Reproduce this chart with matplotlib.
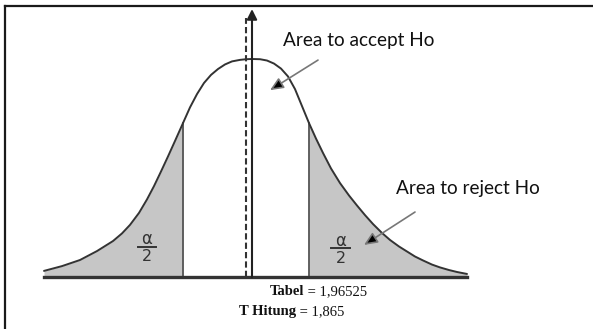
import numpy as np
import matplotlib.pyplot as plt

# curve: position (z) and relative height (peak = 1)
curve_z = [-4.16, -3.80, -3.44, -3.10, -2.78, -2.60, -2.44, -2.26, -2.10, -1.96, -1.82, -1.68,
           -1.54, -1.38, -1.24, -1.10, -0.96, -0.82, -0.68, -0.54, -0.40, -0.24, -0.12, 0.0,
           0.16, 0.30, 0.44, 0.58, 0.72, 0.86, 1.00, 1.14, 1.28, 1.42, 1.58, 1.76, 1.94, 2.10,
           2.26, 2.42, 2.60, 2.76, 2.94, 3.10, 3.26, 3.42, 3.60, 3.76, 3.94, 4.10, 4.30]
curve_h = [0.028, 0.050, 0.078, 0.119, 0.165, 0.200, 0.239, 0.294, 0.356, 0.417, 0.484, 0.553,
           0.624, 0.706, 0.778, 0.839, 0.890, 0.927, 0.954, 0.975, 0.989, 0.996, 0.999, 1.0,
           0.999, 0.993, 0.979, 0.956, 0.920, 0.862, 0.784, 0.706, 0.635, 0.569, 0.498, 0.431,
           0.374, 0.328, 0.284, 0.243, 0.202, 0.170, 0.140, 0.117, 0.094, 0.076, 0.057, 0.044,
           0.032, 0.023, 0.014]

crit_left = -1.38   # lower critical point
crit_right = 1.14   # upper critical point
dash_z = -0.12      # dashed reference line
t_tabel = "1,96525"
t_hitung = "1,865"
accept_label = "Area to accept Ho"
reject_label = "Area to reject Ho"

z = np.array(curve_z)
h = np.array(curve_h)

fig = plt.figure(figsize=(5.93, 3.29), dpi=100)
ax = fig.add_axes([5 / 593, 0, 588 / 593, 323 / 329])
ax.set_xlim(-4.94, 6.82)
ax.set_ylim(-0.2385, 1.2431)
ax.set_xticks([])
ax.set_yticks([])
for side in ['right', 'bottom']:
    ax.spines[side].set_visible(False)
for side in ['left', 'top']:
    ax.spines[side].set_linewidth(1.6)
    ax.spines[side].set_color('#1a1a1a')

# rejection regions
left = z <= crit_left
right = z >= crit_right
ax.fill_between(z[left], 0, h[left], color='#c6c6c6', lw=0)
ax.fill_between(z[right], 0, h[right], color='#c6c6c6', lw=0)
h_left = np.interp(crit_left, z, h)
h_right = np.interp(crit_right, z, h)
ax.plot([crit_left, crit_left], [0, h_left], color='#555555', lw=1.3)
ax.plot([crit_right, crit_right], [0, h_right], color='#555555', lw=1.3)

# curve and baseline
ax.plot(z, h, color='#333333', lw=1.4, solid_capstyle='round', solid_joinstyle='round')
ax.plot([z[0], z[-1]], [0, 0], color='#333333', lw=2.4)

# centre axis with arrow and dashed line
ax.plot([dash_z, dash_z], [0, 1.188], color='#333333', lw=1.5, dashes=(3, 1.5))
ax.annotate('', xy=(0, 1.229), xytext=(0, 0),
            arrowprops=dict(arrowstyle='-|>,head_length=0.6,head_width=0.3',
                            lw=1.5, color='#222222', shrinkA=0, shrinkB=0))

# labels
ax.text(0.62, 1.087, accept_label, family='Lato', fontsize=13.7, va='center', ha='left',
        color='#111111')
ax.text(2.88, 0.408, reject_label, family='Lato', fontsize=13.7, va='center', ha='left',
        color='#111111')

arrow_kw = dict(arrowstyle='-|>,head_length=0.8,head_width=0.35', lw=1.2,
                ec='#777777', fc='black', shrinkA=0, shrinkB=0)
ax.annotate('', xy=(0.36, 0.857), xytext=(1.32, 0.995), arrowprops=arrow_kw)
ax.annotate('', xy=(2.24, 0.147), xytext=(3.26, 0.298), arrowprops=arrow_kw)

# alpha / 2 marks in each tail
for xz, ya, yb, y2 in [(-2.10, 0.174, 0.138, 0.094), (1.78, 0.167, 0.133, 0.087)]:
    ax.text(xz, ya, 'α', family='DejaVu Sans', fontsize=12, ha='center', va='center',
            color='#333333')
    ax.plot([xz - 0.19, xz + 0.19], [yb, yb], color='#333333', lw=1.4)
    ax.text(xz, y2, '2', family='DejaVu Sans', fontsize=11.5, ha='center', va='center',
            color='#333333')

# bottom values: bold name, regular value
t1 = ax.text(0.36, -0.068, 'Tabel', family='Liberation Serif', weight='bold',
             fontsize=10.5, ha='left', va='center', color='#111111')
ax.annotate(' = ' + t_tabel, xy=(1, 0), xycoords=t1, va='bottom', ha='left',
            family='Liberation Serif', fontsize=10.5, color='#111111')
t2 = ax.text(-0.26, -0.16, 'T Hitung', family='Liberation Serif', weight='bold',
             fontsize=10.5, ha='left', va='center', color='#111111')
ax.annotate(' = ' + t_hitung, xy=(1, 0), xycoords=t2, va='bottom', ha='left',
            family='Liberation Serif', fontsize=10.5, color='#111111')

fig.savefig('out.png', dpi=100)
